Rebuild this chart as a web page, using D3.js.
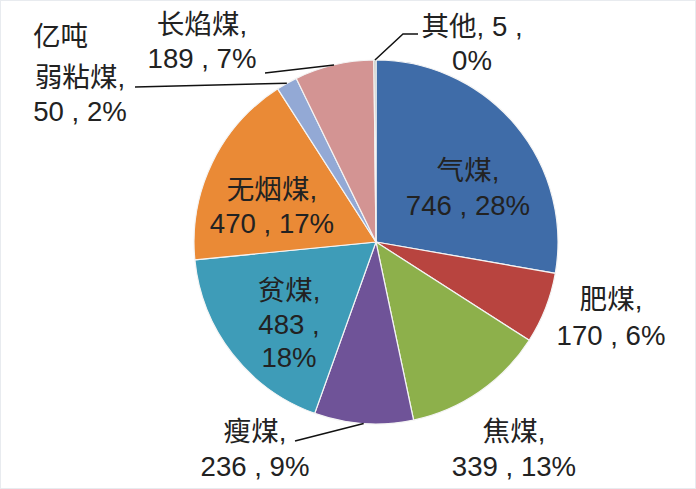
<!DOCTYPE html>
<html><head><meta charset="utf-8">
<script src="https://cdn.jsdelivr.net/npm/d3@7"></script>
<style>
html,body{margin:0;padding:0;background:#fff;}
svg{display:block;}
text{font-family:"Liberation Sans",Arial,"Noto Sans CJK SC",sans-serif;font-size:27.6px;fill:#222;}
</style></head>
<body><svg id="c" width="696" height="489"></svg>
<script>
// ---- data ----
const categories = ["气煤","肥煤","焦煤","瘦煤","贫煤","无烟煤","弱粘煤","长焰煤","其他"];
const values     = [746, 170, 339, 236, 483, 470, 50, 189, 5];
const unitLabel  = "亿吨";

// ---- styles / layout ----
const colors = ["#3f6ca8","#b8443f","#8db04b","#6f5398","#3e9cb8","#ea8a36","#93a9d5","#d39493","#b4b8b0"];
const W = 696, H = 489, cx = 376, cy = 242, R = 182;
// label layout: centre x, first baseline, line gap, optional leader end points
const labelLayout = {
  "气煤":  {x:468, y:180, gap:35},
  "肥煤":  {x:611, y:309, gap:36},
  "焦煤":  {x:514, y:441, gap:35},
  "瘦煤":  {x:255, y:441, gap:35, leader:[[295,441]]},
  "贫煤":  {x:289, y:300, gap:33.5, split:true},
  "无烟煤":{x:272, y:199, gap:34},
  "弱粘煤":{x:80,  y:87,  gap:34, leader:[[135,87]]},
  "长焰煤":{x:202, y:34,  gap:34, leader:[[265,73]]},
  "其他":  {x:472, y:36,  gap:34, leader:[[403,34],[418,34]], other:true}
};

const total = d3.sum(values);
const data = categories.map((c,i)=>({name:c, value:values[i], pct:Math.round(values[i]/total*100)}));

const svg = d3.select("#c");
svg.append("rect").attr("x",0.5).attr("y",0.5).attr("width",W-1).attr("height",H-1)
  .attr("fill","#fff").attr("stroke","#e8ebef");

const pie = d3.pie().value(d=>d.value).sort(null).startAngle(0).endAngle(2*Math.PI);
const arc = d3.arc().innerRadius(0).outerRadius(R);
const arcs = pie(data);

const g = svg.append("g").attr("transform",`translate(${cx},${cy})`);
g.selectAll("path").data(arcs).join("path")
  .attr("d",arc)
  .attr("fill",(d,i)=>colors[i])
  .attr("stroke","#f4f4f4").attr("stroke-width",1.2);

// leader lines
arcs.forEach(a=>{
  const L = labelLayout[a.data.name];
  if(!L.leader) return;
  const mid = (a.startAngle+a.endAngle)/2;
  const p0 = [cx + R*Math.sin(mid), cy - R*Math.cos(mid)];
  let pts;
  if (L.other) pts = [p0, ...L.leader];
  else pts = [L.leader[0], p0];
  svg.append("path").attr("d", d3.line()(pts))
    .attr("fill","none").attr("stroke","#111").attr("stroke-width",1.5);
});

// labels
arcs.forEach(a=>{
  const d = a.data, L = labelLayout[d.name];
  let lines;
  if (L.split) lines = [d.name+",", d.value+" ,", d.pct+"%"];
  else if (L.other) lines = [d.name+", "+d.value+" ,", d.pct+"%"];
  else lines = [d.name+",", d.value+" , "+d.pct+"%"];
  const t = svg.append("text").attr("text-anchor","middle");
  lines.forEach((s,k)=>{
    t.append("tspan").attr("x",L.x).attr("y",L.y+k*L.gap).text(s);
  });
});

svg.append("text").attr("x",33).attr("y",46).text(unitLabel);
</script>
</body></html>
